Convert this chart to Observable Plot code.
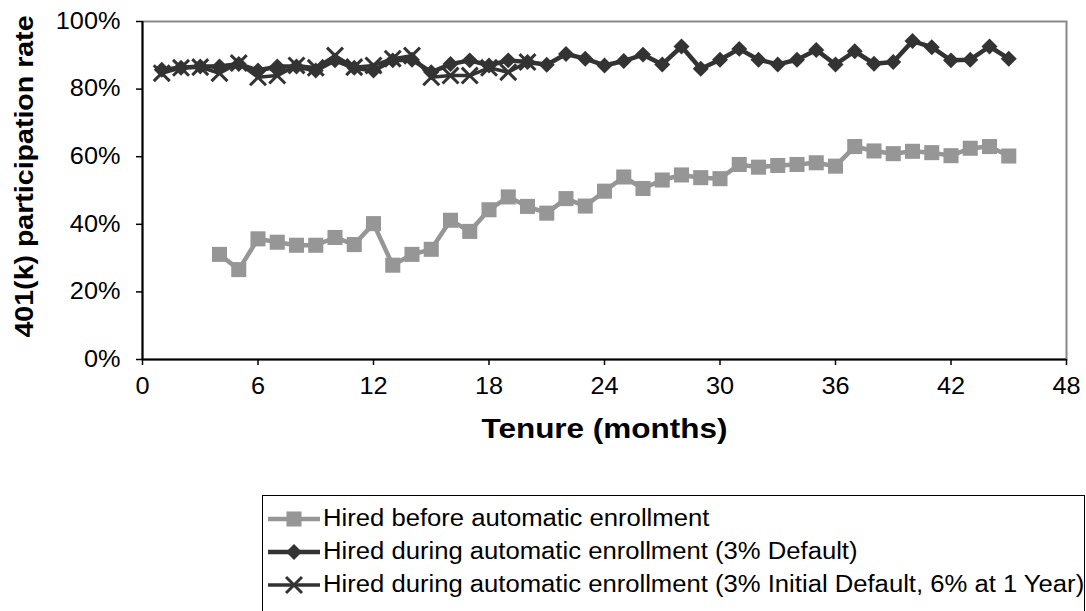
<!DOCTYPE html>
<html>
<head>
<meta charset="utf-8">
<script src="https://cdn.jsdelivr.net/npm/d3@7"></script>
<script src="https://cdn.jsdelivr.net/npm/@observablehq/plot@0.6"></script>
<style>
  html, body { margin: 0; padding: 0; background: #fff; }
  #wrap { position: relative; width: 1086px; height: 611px; overflow: hidden; font-family: "Liberation Sans", Arial, sans-serif; }
  #legend { position: absolute; left: 262px; top: 495px; width: 823px; height: 140px; border: 1px solid #000; box-sizing: border-box; }
  .row { position: absolute; left: 5px; height: 33px; display: flex; align-items: center; font-size: 23px; color: #000; white-space: nowrap; }
  .row svg { margin-right: 3px; flex: none; }
  .row span { display: inline-block; transform: scaleX(1.115); transform-origin: left center; }
</style>
</head>
<body>
<div id="wrap"><div id="chart"></div><div id="legend"></div></div>
<script>
// ---- data ----
const seriesNames = [
  "Hired before automatic enrollment",
  "Hired during automatic enrollment (3% Default)",
  "Hired during automatic enrollment (3% Initial Default, 6% at 1 Year)"
];
const beforeMonths = d3.range(4, 46);
const beforeRates = [31.1, 26.6, 35.7, 34.7, 33.8, 33.8, 36.1, 34.0, 40.2, 27.9, 31.1, 32.6, 41.2, 37.9,
  44.3, 48.1, 45.3, 43.3, 47.6, 45.4, 49.8, 54.0, 50.6, 53.1, 54.6, 53.8, 53.5, 57.7, 56.9, 57.4,
  57.7, 58.2, 57.2, 63.0, 61.7, 60.9, 61.6, 61.2, 60.3, 62.5, 63.0, 60.2];
const defaultMonths = d3.range(1, 46);
const defaultRates = [85.7, 86.3, 86.7, 86.7, 87.4, 85.5, 86.7, 86.7, 85.5, 88.5, 86.3, 85.5, 88.5, 88.7,
  85.0, 87.4, 88.5, 87.0, 88.5, 88.0, 87.2, 90.4, 89.0, 87.0, 88.3, 90.2, 87.3, 92.6, 86.0, 88.7,
  91.9, 88.7, 87.3, 88.7, 91.6, 87.3, 91.2, 87.5, 88.0, 94.2, 92.4, 88.5, 88.7, 92.6, 89.0];
const escalMonths = d3.range(1, 21);
const escalRates = [84.7, 86.3, 86.5, 84.7, 87.7, 83.5, 84.0, 87.0, 86.3, 89.9, 86.5, 87.0, 89.0, 89.9,
  83.5, 84.0, 84.0, 86.3, 85.0, 88.0];
const xTicks = [0, 6, 12, 18, 24, 30, 36, 42, 48];
const yTicks = [0, 0.2, 0.4, 0.6, 0.8, 1.0];
const xTitle = "Tenure (months)";
const yTitle = "401(k) participation rate";

const before = beforeMonths.map((m, i) => ({month: m, rate: beforeRates[i] / 100}));
const dflt = defaultMonths.map((m, i) => ({month: m, rate: defaultRates[i] / 100}));
const escal = escalMonths.map((m, i) => ({month: m, rate: escalRates[i] / 100}));

const gray = "#969696", dark = "#333333";

const chart = Plot.plot({
  width: 1086, height: 470,
  marginTop: 21, marginRight: 20, marginBottom: 111, marginLeft: 142,
  style: {fontFamily: "'Liberation Sans', Arial, sans-serif", fontSize: "23px", color: "#000", background: "#fff"},
  x: {domain: [0, 48]},
  y: {domain: [0, 1]},
  marks: [
    Plot.frame({stroke: "#888", strokeWidth: 2}),
    Plot.axisX({ticks: xTicks, tickSize: 6, tickPadding: 12, label: null, fontSize: 23, strokeWidth: 1.5}),
    Plot.axisY({ticks: yTicks, tickFormat: d => Math.round(d * 100) + "%", tickSize: 6, tickPadding: 16, label: null, fontSize: 23, strokeWidth: 1.5}),
    Plot.ruleX([0], {stroke: "#000", strokeWidth: 2}),
    Plot.ruleY([0], {stroke: "#000", strokeWidth: 2}),
    Plot.line(before, {x: "month", y: "rate", stroke: gray, strokeWidth: 4.5}),
    Plot.dot(before, {x: "month", y: "rate", symbol: "square", r: 8.5, fill: gray}),
    Plot.line(dflt, {x: "month", y: "rate", stroke: dark, strokeWidth: 4.5}),
    Plot.dot(dflt, {x: "month", y: "rate", symbol: "diamond2", r: 7.2, fill: dark}),
    Plot.line(escal, {x: "month", y: "rate", stroke: dark, strokeWidth: 3.5}),
    Plot.dot(escal, {x: "month", y: "rate", symbol: "times", r: 7.3, stroke: dark, strokeWidth: 3}),
    Plot.text([yTitle], {frameAnchor: "left", textAnchor: "middle", rotate: -90, dx: -118, dy: -14, fontSize: 25, fontWeight: "bold", fill: "#000"}),
    Plot.text([xTitle], {frameAnchor: "bottom", textAnchor: "middle", dy: 78, fontSize: 27, fontWeight: "bold", fill: "#000"})
  ]
});
document.getElementById("chart").appendChild(chart);

// horizontal widening of texts to match the reference glyph proportions
chart.querySelectorAll("text").forEach(t => {
  const content = t.textContent;
  const L = t.getComputedTextLength();
  let target = L * 1.1;
  if (content === yTitle) target = 322;
  if (content === xTitle) target = 246;
  t.setAttribute("textLength", target);
  t.setAttribute("lengthAdjust", "spacingAndGlyphs");
});

// ---- legend ----
const legend = d3.select("#legend");
const legendStyles = [
  {color: gray, symbol: d3.symbolSquare, size: Math.PI * 8.5 * 8.5, fill: true, w: 4.5},
  {color: dark, symbol: d3.symbolDiamond2, size: Math.PI * 7.2 * 7.2, fill: true, w: 4.5},
  {color: dark, symbol: d3.symbolTimes, size: Math.PI * 7.3 * 7.3, fill: false, w: 3.5}
];
seriesNames.forEach((name, i) => {
  const st = legendStyles[i];
  const row = legend.append("div").attr("class", "row").style("top", (6 + 33 * i) + "px");
  const svg = row.append("svg").attr("width", 52).attr("height", 30);
  svg.append("line").attr("x1", 0).attr("x2", 52).attr("y1", 15).attr("y2", 15)
    .attr("stroke", st.color).attr("stroke-width", st.w);
  svg.append("path").attr("transform", "translate(26,15)")
    .attr("d", d3.symbol(st.symbol, st.size)())
    .attr("fill", st.fill ? st.color : "none")
    .attr("stroke", st.fill ? "none" : st.color).attr("stroke-width", 3);
  row.append("span").text(name);
});
</script>
</body>
</html>
